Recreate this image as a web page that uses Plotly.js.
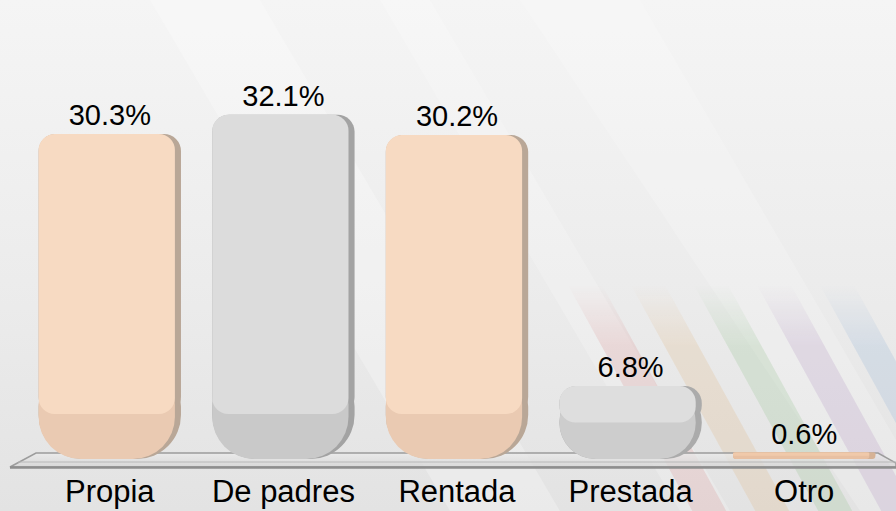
<!DOCTYPE html>
<html>
<head>
<meta charset="utf-8">
<script src="https://cdn.plot.ly/plotly-3.0.1.min.js"></script>
<style>
  html, body { margin: 0; padding: 0; background: #ebebeb; }
  #chart { width: 896px; height: 511px; }
</style>
</head>
<body>
<div id="chart"></div>
<script>
// ---- data ----
var categories = ["Propia", "De padres", "Rentada", "Prestada", "Otro"];
var values = [30.3, 32.1, 30.2, 6.8, 0.6];
var valueLabels = ["30.3%", "32.1%", "30.2%", "6.8%", "0.6%"];

// ---- styling ----
var topColors = ["#F7DAC2", "#DCDCDC", "#F7DAC2", "#DEDEDE", "#F0C9AA"];
var bottomColors = ["#EACAB2", "#C9C9C9", "#EACAB2", "#CDCDCD", "#E8C0A2"];
var edgeColors = ["#B9A797", "#A3A3A3", "#B9A797", "#ABABAB", "#D6B295"];
var W = 896, H = 511;
var M = {l: 23, r: 5, t: 30, b: 52};

// each bar = a rounded "bowl" bottom part + a rounded-top upper part
var bowlLen = values.map(function (v) { return Math.min(v, 9); });
var upperBase = values.map(function (v) { return Math.min(v / 2, 4.2); });
var upperLen = values.map(function (v, i) { return v - upperBase[i]; });
var zeroBase = values.map(function () { return 0; });

// ---- background image (decoration) ----
function stripes() {
  var cols = ["#d98c8c", "#e0b47e", "#8fc08a", "#b08fc0", "#8fb0d6"];
  var s = "";
  for (var i = 0; i < cols.length; i++) {
    var x0 = 568 + 63 * i, y0 = 285, y1 = 520, w = 34, k = 0.55;
    var pts = [
      [x0, y0], [x0 + w, y0],
      [x0 + w + (y1 - y0) * k, y1], [x0 + (y1 - y0) * k, y1]
    ].map(function (p) { return p[0] + "," + p[1]; }).join(" ");
    s += '<polygon points="' + pts + '" fill="' + cols[i] + '"/>';
  }
  return s;
}
var svg =
  '<svg xmlns="http://www.w3.org/2000/svg" width="896" height="511" viewBox="0 0 896 511">' +
  '<defs>' +
  '<linearGradient id="bg" x1="0" y1="0" x2="0" y2="1">' +
  '<stop offset="0" stop-color="#f5f5f5"/><stop offset="0.55" stop-color="#ececec"/><stop offset="1" stop-color="#e3e3e3"/></linearGradient>' +
  '<linearGradient id="fade" gradientUnits="userSpaceOnUse" x1="0" y1="285" x2="0" y2="345">' +
  '<stop offset="0" stop-color="#000"/><stop offset="1" stop-color="#fff"/></linearGradient>' +
  '<mask id="m"><rect width="896" height="511" fill="url(#fade)"/></mask>' +
  '<linearGradient id="floor" x1="0" y1="0" x2="0" y2="1">' +
  '<stop offset="0" stop-color="#ececec"/><stop offset="1" stop-color="#d4d4d4"/></linearGradient>' +
  '</defs>' +
  '<rect width="896" height="511" fill="url(#bg)"/>' +
  '<polygon points="150,0 260,0 560,511 450,511" fill="#ffffff" opacity="0.25"/>' +
  '<polygon points="380,0 430,0 730,511 680,511" fill="#ffffff" opacity="0.2"/>' +
  '<polygon points="520,0 640,0 896,440 896,511 860,511" fill="#ffffff" opacity="0.18"/>' +
  '<g mask="url(#m)" opacity="0.22">' + stripes() + '</g>' +
  '<polygon points="36,453 878,453 896,463 896,467 10,467" fill="url(#floor)" fill-opacity="0.75" stroke="#9c9c9c" stroke-width="1.5"/>' +
  '<line x1="18" y1="462" x2="896" y2="462" stroke="#b8b8b8" stroke-width="1"/>' +
  '<line x1="10" y1="467.5" x2="896" y2="467.5" stroke="#8e8e8e" stroke-width="2.5"/>' +
  '</svg>';
var svgSrc = "data:image/svg+xml;charset=utf-8," + encodeURIComponent(svg);

var plotW = W - M.l - M.r, plotH = H - M.t - M.b;
var font = "Liberation Sans, Arial, Helvetica, sans-serif";
var fullW = 0.82, mainW = 0.785;

function bar(y, base, colors, radius, width, offset) {
  var t = {
    type: "bar", x: categories, y: y, base: base,
    width: width,
    marker: {color: colors, line: {width: 0}, cornerradius: radius},
    hoverinfo: "skip", showlegend: false, cliponaxis: false
  };
  if (offset !== undefined) t.offset = offset;
  return t;
}

var edgeBowl = bar(bowlLen, zeroBase, edgeColors, 44, fullW);
var edgeUpper = bar(upperLen, upperBase, edgeColors, 17, fullW);
edgeUpper.text = valueLabels;
edgeUpper.textposition = "outside";
edgeUpper.textfont = {family: font, size: 29, color: "#000000"};
var mainBowl = bar(bowlLen, zeroBase, bottomColors, 42, mainW, -fullW / 2);
var mainUpper = bar(upperLen, upperBase, topColors, 16, mainW, -fullW / 2);

var layout = {
  width: W, height: H,
  margin: M,
  barmode: "overlay",
  paper_bgcolor: "#ebebeb",
  plot_bgcolor: "rgba(0,0,0,0)",
  font: {family: font, color: "#000000"},
  xaxis: {
    showgrid: false, zeroline: false, showline: false, ticks: "",
    tickfont: {family: font, size: 31, color: "#000000"},
    ticklabelstandoff: 11,
    fixedrange: true
  },
  yaxis: {
    range: [0, 40], visible: false, showgrid: false, zeroline: false, fixedrange: true
  },
  images: [{
    source: svgSrc,
    xref: "paper", yref: "paper",
    x: -M.l / plotW, y: 1 + M.t / plotH,
    sizex: W / plotW, sizey: H / plotH,
    xanchor: "left", yanchor: "top",
    sizing: "stretch", layer: "below"
  }]
};

Plotly.newPlot("chart", [edgeBowl, edgeUpper, mainBowl, mainUpper], layout, {displayModeBar: false, staticPlot: true});
</script>
</body>
</html>
